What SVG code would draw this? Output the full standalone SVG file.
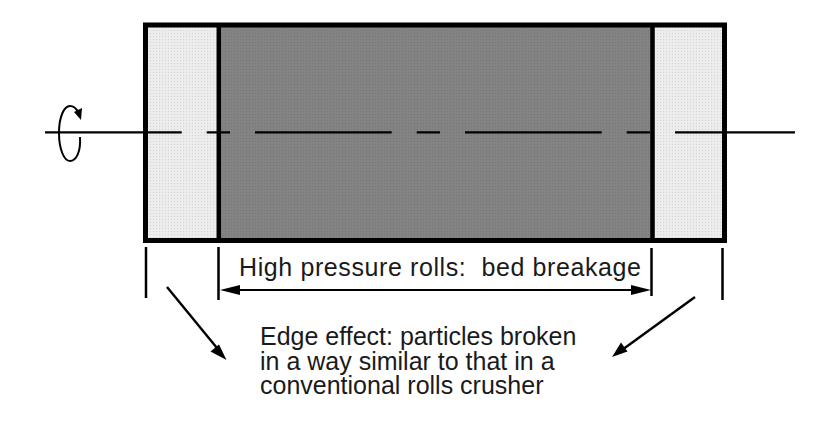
<svg xmlns="http://www.w3.org/2000/svg" width="835" height="434" viewBox="0 0 835 434">
<style>
  .ln{stroke:#000;fill:none;stroke-linecap:butt}
  .txt{font-family:"Liberation Sans",Arial,sans-serif;font-size:25px;fill:#1a1a1a}
  .ah{fill:#000;stroke:none}
</style>
<defs>
  <pattern id="dots" width="3" height="3" patternUnits="userSpaceOnUse">
    <rect width="3" height="3" fill="#ececec"/>
    <rect width="1" height="1" fill="#d4d4d4"/>
  </pattern>
  <pattern id="dark" width="3" height="3" patternUnits="userSpaceOnUse">
    <rect width="3" height="3" fill="#838383"/>
    <rect width="1" height="1" fill="#767676"/>
  </pattern>
</defs>
<g id="roll">
  <rect x="145.5" y="25" width="73.3" height="215.5" fill="url(#dots)"/>
  <rect x="218.8" y="25" width="433.7" height="215.5" fill="url(#dark)"/>
  <rect x="652.5" y="25" width="72" height="215.5" fill="url(#dots)"/>
  <line class="ln" x1="218.8" y1="25" x2="218.8" y2="240.5" stroke-width="4.5"/>
  <line class="ln" x1="652.5" y1="25" x2="652.5" y2="240.5" stroke-width="4.5"/>
  <rect x="145.5" y="25" width="579" height="215.5" fill="none" stroke="#000" stroke-width="5"/>
</g>
<g id="axis">
  <line class="ln" x1="45" y1="132.3" x2="795" y2="132.3" stroke-width="2.2" stroke-dasharray="136.7 25 23.3 25"/>
  <path class="ln" d="M80,137 C81,152 76,161 70,161 C64,161 59,149 59,133 C59,117 64,106 70,106 C73,106 76,108 78,112" stroke-width="2"/>
  <polygon class="ah" points="74,112 82,108 81,120"/>
</g>
<g id="connectors">
  <line class="ln" x1="146" y1="247" x2="146" y2="298" stroke-width="2.5"/>
  <line class="ln" x1="218.5" y1="247" x2="218.5" y2="300" stroke-width="2.5"/>
  <line class="ln" x1="651.5" y1="248" x2="651.5" y2="296" stroke-width="2.5"/>
  <line class="ln" x1="722.5" y1="248" x2="722.5" y2="300" stroke-width="2.5"/>
  <line class="ln" x1="236" y1="290" x2="636" y2="290" stroke-width="2.2"/>
  <polygon class="ah" points="220,290 240,285 240,295"/>
  <polygon class="ah" points="651,290 631,285 631,295"/>
  <line class="ln" x1="167" y1="287" x2="217" y2="348" stroke-width="2.4"/>
  <polygon class="ah" points="226.5,360 210.5,351.5 219,344.5"/>
  <line class="ln" x1="695" y1="297" x2="624" y2="348.5" stroke-width="2.4"/>
  <polygon class="ah" points="612,357 621,342.5 627.5,351.5"/>
</g>
<g id="labels">
  <text class="txt" x="239" y="276" textLength="402" lengthAdjust="spacing" xml:space="preserve">High pressure rolls:  bed breakage</text>
  <text class="txt" x="260" y="345">Edge effect: particles broken</text>
  <text class="txt" x="260" y="369.5">in a way similar to that in a</text>
  <text class="txt" x="260" y="394">conventional rolls crusher</text>
</g>
</svg>
